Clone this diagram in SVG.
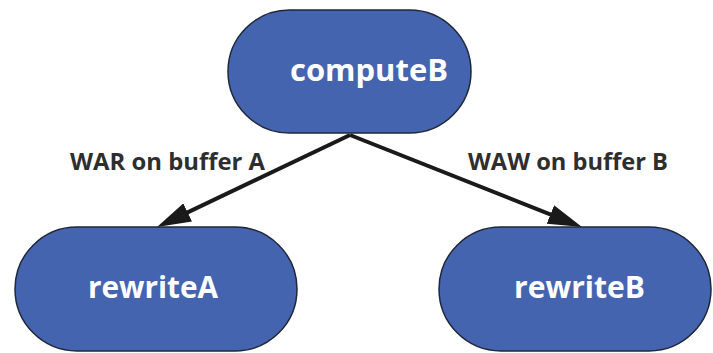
<svg xmlns="http://www.w3.org/2000/svg" width="713" height="353" viewBox="0 0 713 353">
  <defs>
    <style>
      .node { fill: #4564b0; stroke: #1e2838; stroke-width: 1.5; }
      .node-label { font-family: "Open Sans", "Liberation Sans", sans-serif; font-weight: 700; font-size: 30px; fill: #ffffff; text-anchor: middle; }
      .edge { stroke: #1a1a1a; stroke-width: 4; fill: none; }
      .edge-label { font-family: "Open Sans", "Liberation Sans", sans-serif; font-weight: 700; font-size: 24px; fill: #2e2e2e; text-anchor: middle; }
    </style>
    <!-- long narrow arrowhead; tip sits 20px past the end of the line -->
    <marker id="arrow" viewBox="0 0 34 20" refX="14" refY="10" markerUnits="userSpaceOnUse" markerWidth="34" markerHeight="20" orient="auto">
      <path d="M0,0 L34,10 L0,20 Z" fill="#1a1a1a"/>
    </marker>
  </defs>

  <!-- connectors -->
  <g id="edges">
    <line class="edge" x1="350" y1="135" x2="175.05" y2="218.39" marker-end="url(#arrow)"/>
    <line class="edge" x1="350" y1="135" x2="563.41" y2="219.63" marker-end="url(#arrow)"/>
    <text class="edge-label" x="167.5" y="170" textLength="195" lengthAdjust="spacingAndGlyphs">WAR on buffer A</text>
    <text class="edge-label" x="568" y="170" textLength="200" lengthAdjust="spacingAndGlyphs">WAW on buffer B</text>
  </g>

  <g id="computeB">
    <rect class="node" x="228" y="10" width="243" height="123" rx="61.5" ry="61.5"/>
    <text class="node-label" x="369" y="81" textLength="158" lengthAdjust="spacingAndGlyphs">computeB</text>
  </g>

  <g id="rewriteA">
    <rect class="node" x="15" y="227" width="282" height="124" rx="62" ry="62"/>
    <text class="node-label" x="153" y="298" textLength="130" lengthAdjust="spacingAndGlyphs">rewriteA</text>
  </g>

  <g id="rewriteB">
    <rect class="node" x="439" y="227" width="272" height="124" rx="62" ry="62"/>
    <text class="node-label" x="579.5" y="298" textLength="131" lengthAdjust="spacingAndGlyphs">rewriteB</text>
  </g>
</svg>
